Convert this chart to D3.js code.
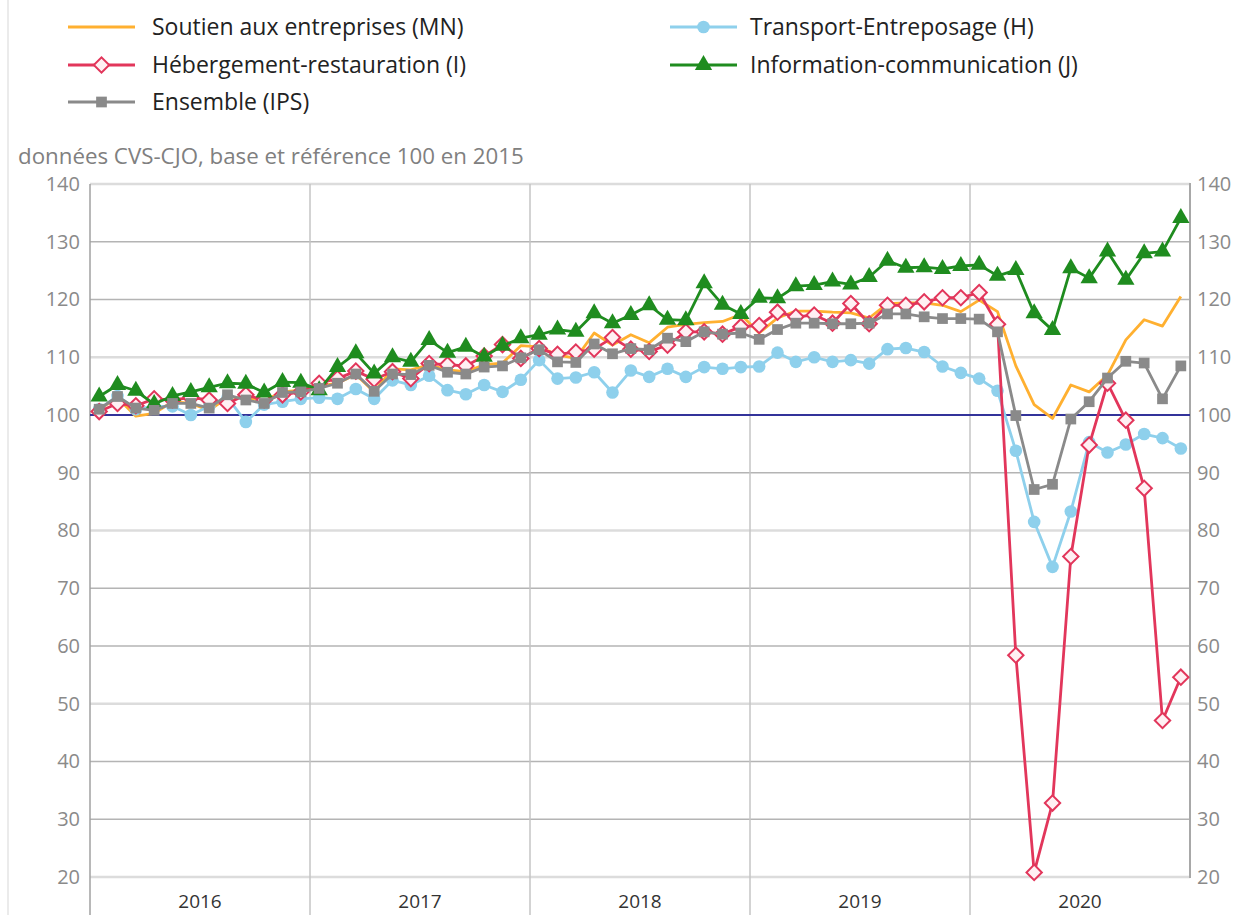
<!DOCTYPE html>
<html>
<head>
<meta charset="utf-8">
<script src="https://cdn.jsdelivr.net/npm/d3@7"></script>
<style>
  body { margin: 0; background: #fff; }
  svg { font-family: "Open Sans", sans-serif; }
</style>
</head>
<body>
<svg width="1239" height="915"></svg>
<script>
// years on the x axis, 12 months each
var years = ["2016", "2017", "2018", "2019", "2020"];
var yTicks = [20, 30, 40, 50, 60, 70, 80, 90, 100, 110, 120, 130, 140];

// Soutien aux entreprises (MN)
var soutien = [
  101.0, 103.0, 99.8, 100.3, 102.3, 102.0, 100.8, 103.0, 103.0, 102.5, 104.0, 104.3,
  105.0, 105.5, 107.0, 104.0, 108.0, 107.8, 108.7, 107.8, 107.5, 108.7, 109.0, 112.0,
  111.8, 110.4, 109.8, 114.2, 112.1, 113.9, 112.5, 115.2, 115.7, 116.0, 116.2, 117.4,
  114.2, 116.8, 118.0, 118.0, 117.8, 117.7, 116.8, 119.3, 119.4, 119.4, 119.0, 117.9,
  119.9, 117.9, 108.5, 101.8, 99.4, 105.2, 104.0, 106.9, 113.0, 116.5, 115.4, 120.5
];
// Transport-Entreposage (H)
var transport = [
  101.0, 103.3, 101.0, 101.5, 101.5, 100.0, 101.5, 103.0, 98.8, 101.8, 102.3, 102.8,
  103.0, 102.8, 104.5, 102.8, 106.0, 105.2, 106.8, 104.3, 103.6, 105.2, 104.0, 106.1,
  109.5, 106.3, 106.5, 107.4, 103.9, 107.7, 106.6, 108.0, 106.6, 108.3, 108.0, 108.3,
  108.4, 110.8, 109.2, 110.0, 109.2, 109.5, 108.9, 111.4, 111.6, 110.9, 108.4, 107.3,
  106.3, 104.2, 93.8, 81.5, 73.7, 83.3, 95.3, 93.5, 94.9, 96.7, 96.0, 94.2
];
// Hébergement-restauration (I)
var hebergement = [
  100.6, 102.0, 101.6, 102.8, 102.6, 103.0, 102.6, 102.0, 103.5, 102.6, 103.5, 104.0,
  105.5, 106.3, 107.6, 106.2, 107.5, 106.3, 108.9, 108.7, 108.5, 110.2, 112.2, 109.8,
  111.5, 110.5, 110.9, 111.4, 113.4, 111.4, 111.0, 112.1, 114.4, 114.4, 114.0, 115.3,
  115.5, 117.8, 117.0, 117.3, 115.9, 119.3, 115.8, 119.0, 119.0, 119.6, 120.3, 120.3,
  121.2, 115.7, 58.4, 20.8, 32.8, 75.5, 94.8, 105.5, 99.1, 87.3, 47.1, 54.6
];
// Information-communication (J)
var information = [
  103.2, 105.2, 104.2, 101.9, 103.3, 104.0, 104.8, 105.5, 105.4, 103.9, 105.7, 105.6,
  104.3, 108.3, 110.7, 107.2, 110.0, 109.2, 113.0, 110.8, 111.8, 110.1, 112.0, 113.3,
  113.9, 114.8, 114.4, 117.6, 115.9, 117.3, 119.0, 116.5, 116.4, 122.8, 119.1, 117.5,
  120.3, 120.2, 122.3, 122.5, 123.1, 122.6, 123.9, 126.7, 125.5, 125.6, 125.3, 125.8,
  126.0, 124.1, 125.1, 117.6, 114.7, 125.4, 123.7, 128.3, 123.4, 128.0, 128.3, 134.1
];
// Ensemble (IPS)
var ensemble = [
  101.0, 103.2, 101.2, 100.8, 102.0, 102.0, 101.2, 103.5, 102.6, 102.0, 103.9, 104.0,
  104.6, 105.5, 107.1, 104.1, 107.1, 107.0, 108.6, 107.4, 107.1, 108.3, 108.5, 109.9,
  111.3, 109.2, 109.1, 112.3, 110.6, 111.5, 111.3, 113.3, 112.7, 114.4, 114.0, 114.2,
  113.1, 114.8, 115.9, 115.9, 115.8, 115.8, 115.9, 117.5, 117.5, 117.0, 116.7, 116.7,
  116.6, 114.4, 99.9, 87.1, 88.0, 99.3, 102.3, 106.4, 109.3, 109.0, 102.8, 108.5
];

var months = [];
years.forEach(function(yr) {
  for (var m = 1; m <= 12; m++) months.push(yr + "-" + (m < 10 ? "0" + m : m));
});

var series = [
  { name: "Soutien aux entreprises (MN)", values: soutien, color: "#ffb030", marker: null, col: 0, row: 0 },
  { name: "Transport-Entreposage (H)", values: transport, color: "#8ed0ec", marker: "circle", col: 1, row: 0 },
  { name: "Hébergement-restauration (I)", values: hebergement, color: "#e2365b", marker: "diamond", col: 0, row: 1 },
  { name: "Information-communication (J)", values: information, color: "#1f8c1f", marker: "triangle", col: 1, row: 1 },
  { name: "Ensemble (IPS)", values: ensemble, color: "#8a8a8a", marker: "square", col: 0, row: 2 }
];

var svg = d3.select("svg");
var X0 = 90, X1 = 1190, Y0 = 877, Y1 = 184;

var x = d3.scaleBand().domain(months).range([X0, X1]).padding(0);
var xYear = d3.scaleBand().domain(years).range([X0, X1]).padding(0);
var y = d3.scaleLinear().domain([20, 140]).range([Y0, Y1]);
var cx = function(i) { return x(months[i]) + x.bandwidth() / 2; };

// left frame line of the page
svg.append("line")
  .attr("x1", 8).attr("x2", 8).attr("y1", 0).attr("y2", 915)
  .style("stroke", "#e4e4e4").style("stroke-width", 1.5);

// horizontal grid
svg.append("g").selectAll("line")
  .data(yTicks)
  .enter().append("line")
  .attr("x1", X0).attr("x2", X1)
  .attr("y1", function(d) { return y(d); })
  .attr("y2", function(d) { return y(d); })
  .style("stroke", function(d) { return (d - 20) % 30 === 0 ? "#dcdcdc" : "#b4b4b4"; })
  .style("stroke-width", function(d) { return (d - 20) % 30 === 0 ? 2.5 : 1.3; });

// year separators
svg.append("g").selectAll("line")
  .data(years.slice(1))
  .enter().append("line")
  .attr("x1", function(d) { return xYear(d); })
  .attr("x2", function(d) { return xYear(d); })
  .attr("y1", Y1).attr("y2", 915)
  .style("stroke", "#c4c4c4").style("stroke-width", 1.5);

svg.append("line")
  .attr("x1", X0).attr("x2", X0).attr("y1", Y1).attr("y2", 915)
  .style("stroke", "#a0a0a0").style("stroke-width", 1.5);
svg.append("line")
  .attr("x1", X1).attr("x2", X1).attr("y1", Y1 - 1).attr("y2", Y0 + 1)
  .style("stroke", "#a8a8a8").style("stroke-width", 2);

// reference line at 100
svg.append("line")
  .attr("x1", X0).attr("x2", X1).attr("y1", y(100)).attr("y2", y(100))
  .style("stroke", "#33339a").style("stroke-width", 1.8);

// axes
var yl = svg.append("g").attr("transform", "translate(" + (X0 - 10) + ",0)")
  .call(d3.axisLeft(y).tickValues(yTicks).tickSize(0).tickPadding(0));
var yr = svg.append("g").attr("transform", "translate(" + (X1 + 7) + ",0)")
  .call(d3.axisRight(y).tickValues(yTicks).tickSize(0).tickPadding(0));
var xa = svg.append("g").attr("transform", "translate(0," + Y0 + ")")
  .call(d3.axisBottom(xYear).tickSize(0).tickPadding(18));
[yl, yr, xa].forEach(function(a) {
  a.select(".domain").remove();
  a.selectAll("text").style("font-family", "'Open Sans', sans-serif").style("font-size", "20px");
});
yl.selectAll("text").style("fill", "#8a8a8a");
yr.selectAll("text").style("fill", "#8a8a8a");
xa.selectAll("text").style("fill", "#333").style("font-size", "19px");

svg.append("text")
  .attr("x", 18).attr("y", 164)
  .style("font-size", "22.3px").style("fill", "#808080")
  .text("données CVS-CJO, base et référence 100 en 2015");

function markerPath(type) {
  if (type === "circle") return d3.symbol().type(d3.symbolCircle).size(125)();
  if (type === "triangle") return d3.symbol().type(d3.symbolTriangle).size(130)();
  if (type === "square") return d3.symbol().type(d3.symbolSquare).size(115)();
  if (type === "diamond") return d3.symbol().type(d3.symbolSquare).size(118)();
  return null;
}
function drawMarker(g, s) {
  var p = g.append("path").attr("d", markerPath(s.marker));
  if (s.marker === "diamond") {
    p.attr("transform", "rotate(45)")
      .style("fill", "#fff0f3").style("stroke", s.color).style("stroke-width", 2);
  } else {
    p.style("fill", s.color);
  }
}

var line = d3.line()
  .x(function(d, i) { return cx(i); })
  .y(function(d) { return y(d); });

series.forEach(function(s) {
  var g = svg.append("g");
  g.append("path")
    .datum(s.values)
    .attr("d", line)
    .style("fill", "none")
    .style("stroke", s.color)
    .style("stroke-width", 2.8)
    .style("stroke-linejoin", "round");
  if (s.marker) {
    g.selectAll("g.pt")
      .data(s.values)
      .enter().append("g")
      .attr("class", "pt")
      .attr("transform", function(d, i) { return "translate(" + cx(i) + "," + y(d) + ")"; })
      .each(function() { drawMarker(d3.select(this), s); });
  }
});

// legend
var legX = [68, 670], legY = [27, 65, 102];
series.forEach(function(s) {
  var lg = svg.append("g")
    .attr("transform", "translate(" + legX[s.col] + "," + legY[s.row] + ")");
  lg.append("line")
    .attr("x1", 0).attr("x2", 67)
    .style("stroke", s.color).style("stroke-width", 2.8);
  if (s.marker) {
    drawMarker(lg.append("g").attr("transform", "translate(33.5,0)"), s);
  }
  lg.append("text")
    .attr("x", s.col === 0 ? 84 : 80).attr("dy", "0.35em")
    .style("font-size", "23px").style("fill", "#222")
    .text(s.name);
});
</script>
</body>
</html>
